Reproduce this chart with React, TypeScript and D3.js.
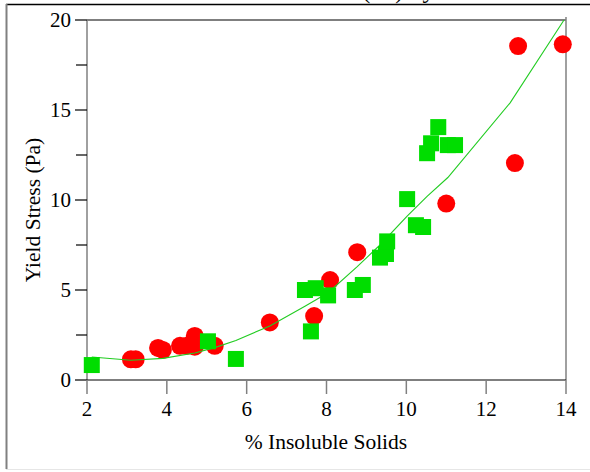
import React from 'react';
import * as d3 from 'd3';

// red circles (% insoluble solids, yield stress)
const circleX = [3.1, 3.22, 3.78, 3.9, 4.33, 4.5, 4.7, 4.7, 5.2, 6.58, 7.69, 8.09, 8.77, 11.0, 12.72, 12.8, 13.92];
const circleY = [1.15, 1.15, 1.78, 1.67, 1.9, 1.9, 1.85, 2.45, 1.9, 3.2, 3.55, 5.55, 7.1, 9.8, 12.05, 18.55, 18.65];

// green squares
const squareX = [2.12, 5.03, 5.73, 7.46, 7.61, 7.73, 8.04, 8.71, 8.91, 9.34, 9.49, 9.52, 10.02, 10.24, 10.42, 10.52, 10.62, 10.8, 11.04, 11.22];
const squareY = [0.83, 2.15, 1.17, 5.0, 2.7, 5.1, 4.7, 5.0, 5.28, 6.8, 7.0, 7.7, 10.05, 8.6, 8.5, 12.6, 13.15, 14.05, 13.05, 13.05];

// fitted curve
const fitX = [2.12, 3.1, 3.9, 4.7, 5.2, 5.73, 6.58, 7.46, 8.04, 8.77, 9.34, 10.02, 10.52, 11.04, 12.6, 13.95];
const fitY = [1.28, 1.1, 1.2, 1.5, 1.8, 2.2, 3.0, 4.1, 4.85, 6.3, 7.5, 9.1, 10.2, 11.25, 15.4, 20.0];

const xTicks = [2, 4, 6, 8, 10, 12, 14];
const yTicks = [0, 5, 10, 15, 20];
const yMinor = [2.5, 7.5, 12.5, 17.5];

const FONT = '"Liberation Serif", "Times New Roman", serif';

const App = () => {
  const left = 87, right = 566, top = 20, bottom = 380;
  const x = d3.scaleLinear().domain([2, 14]).range([left, right]);
  const y = d3.scaleLinear().domain([0, 20]).range([bottom, top]);

  const line = d3.line<number>()
    .x((d, i) => x(fitX[i]))
    .y(d => y(d));

  const sq = 16;

  return (
    <svg width={590} height={472} style={{ position: 'absolute', left: 0, top: 0, background: '#fff' }}>
      <defs>
        <clipPath id="titleClip">
          <rect x={0} y={0} width={590} height={4} />
        </clipPath>
      </defs>
      {/* title, cut off by the top edge as in the source */}
      <text x={362} y={-2} fontFamily={FONT} fontSize={25} clipPath="url(#titleClip)" fill="#000">(Pa) by</text>

      {/* outer frame */}
      <line x1={6} x2={590} y1={4.5} y2={4.5} stroke="#000" strokeWidth={1.5} />
      <line x1={6.5} x2={6.5} y1={4} y2={469} stroke="#808080" strokeWidth={2} />
      <line x1={6} x2={590} y1={469.5} y2={469.5} stroke="#e6e6e6" strokeWidth={1} />

      {/* plot frame */}
      <line x1={left} x2={right} y1={top} y2={top} stroke="#000" strokeWidth={1.2} />
      <line x1={right} x2={right} y1={top - 3} y2={bottom} stroke="#808080" strokeWidth={1.5} />
      <line x1={left} x2={left} y1={top} y2={bottom} stroke="#808080" strokeWidth={1.5} />
      <line x1={left} x2={right} y1={bottom} y2={bottom} stroke="#000" strokeWidth={1.2} />

      {/* y ticks */}
      {yTicks.map(t => (
        <g key={'y' + t}>
          <line x1={left - 12} x2={left} y1={y(t)} y2={y(t)} stroke="#000" strokeWidth={1.2} />
          <text x={left - 16} y={y(t)} dy="0.35em" textAnchor="end" fontFamily={FONT} fontSize={21} fill="#000">{t}</text>
        </g>
      ))}
      {yMinor.map(t => (
        <line key={'ym' + t} x1={left - 11} x2={left} y1={y(t)} y2={y(t)} stroke="#000" strokeWidth={1.2} />
      ))}

      {/* x ticks */}
      {xTicks.map(t => (
        <g key={'x' + t}>
          <line x1={x(t)} x2={x(t)} y1={bottom} y2={bottom + 14} stroke="#808080" strokeWidth={1.5} />
          <text x={x(t)} y={416} textAnchor="middle" fontFamily={FONT} fontSize={21} fill="#000">{t}</text>
        </g>
      ))}

      {/* axis titles */}
      <text x={326} y={449} textAnchor="middle" fontFamily={FONT} fontSize={21.5} fill="#000">% Insoluble Solids</text>
      <text transform="translate(40,210) rotate(-90)" textAnchor="middle" fontFamily={FONT} fontSize={21.5} fill="#000">Yield Stress (Pa)</text>

      {/* red circles */}
      {circleX.map((v, i) => (
        <circle key={'c' + i} cx={x(v)} cy={y(circleY[i])} r={9} fill="#ff0000" />
      ))}

      {/* fit line */}
      <path d={line(fitY) || ''} fill="none" stroke="#22cc22" strokeWidth={1.1} />

      {/* green squares */}
      {squareX.map((v, i) => (
        <rect key={'s' + i} x={x(v) - sq / 2} y={y(squareY[i]) - sq / 2} width={sq} height={sq} fill="#00dd00" />
      ))}
    </svg>
  );
};

export default App;
